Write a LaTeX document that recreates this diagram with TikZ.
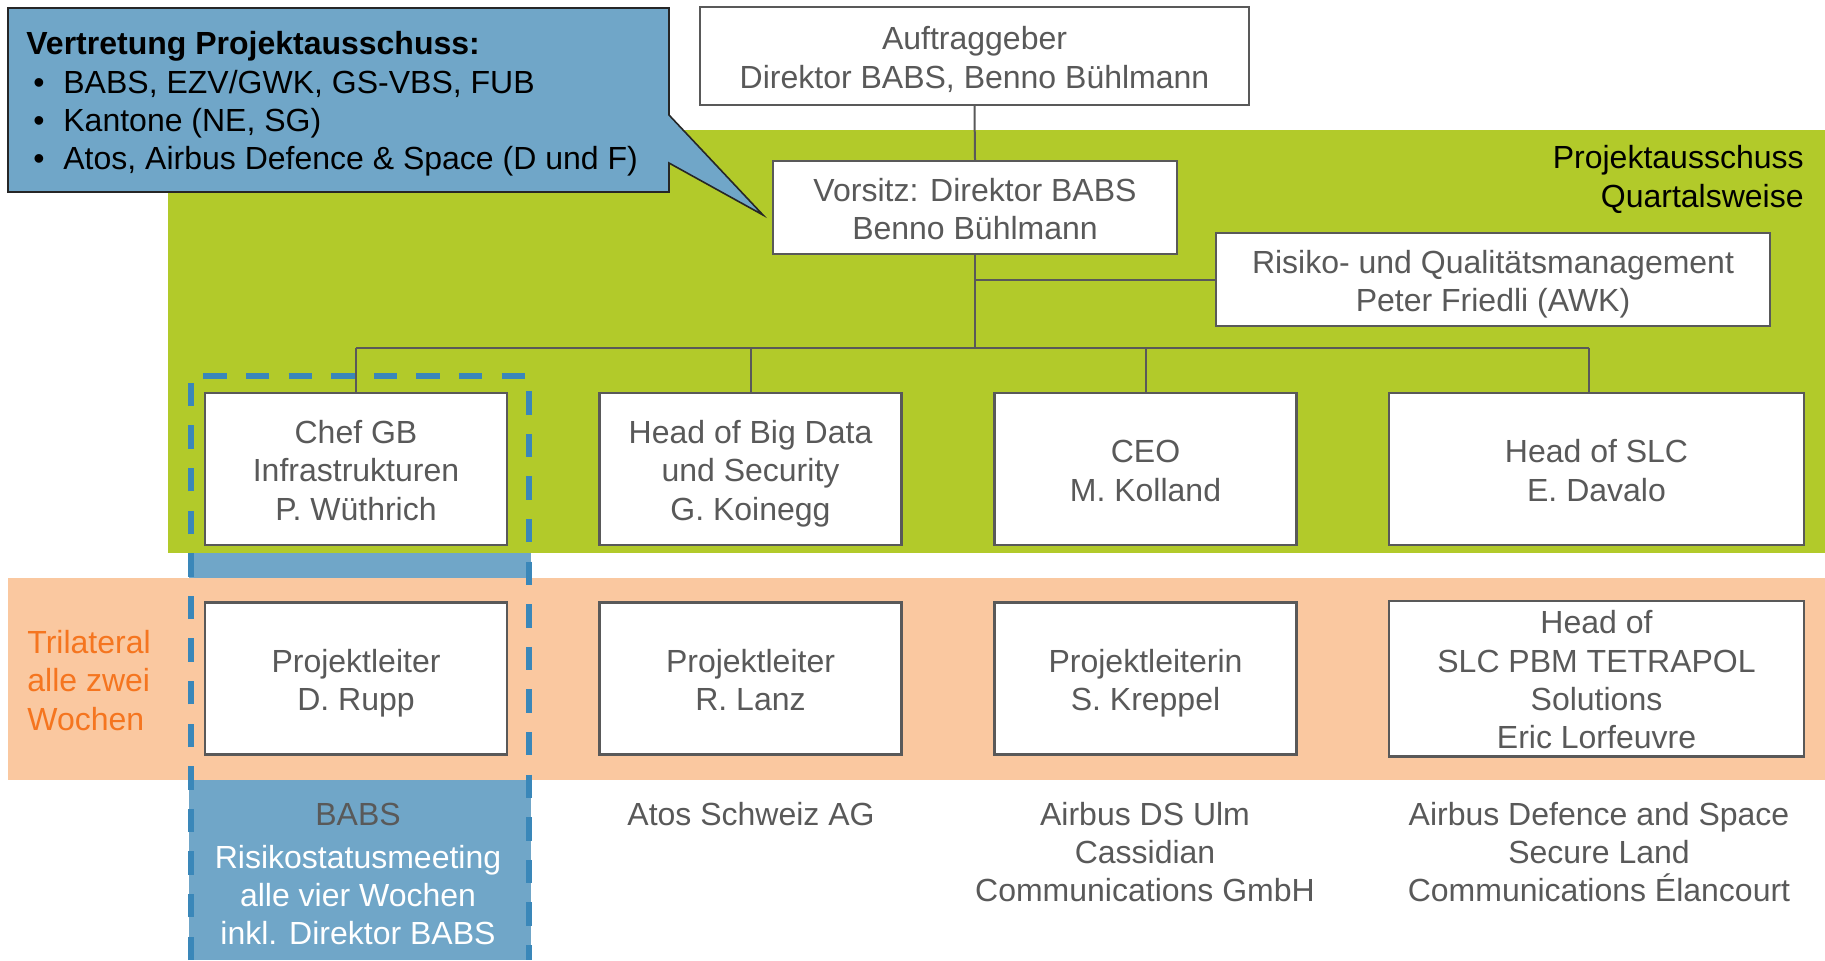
\documentclass[tikz,border=0pt]{standalone}
\usepackage{fontspec}
\setmainfont{Liberation Sans}
\definecolor{txtgray}{HTML}{595959}
\definecolor{bandgreen}{HTML}{B2CA2A}
\definecolor{bandpeach}{HTML}{FAC8A0}
\definecolor{calloutblue}{HTML}{70A6C8}
\definecolor{dashblue}{HTML}{3A87B9}
\definecolor{triorange}{HTML}{F5751F}
\newcommand{\tstr}{\rule{0pt}{16.5pt}}
\newcommand{\dstr}{\rule[-3.7pt]{0pt}{3.7pt}}
\begin{document}
\begin{tikzpicture}[x=0.5pt,y=-0.5pt,
  every node/.style={font=\fontsize{16}{19.2}\selectfont},
  orgbox/.style={draw=txtgray,line width=1.2pt,fill=white,text=txtgray,align=center,inner sep=0pt,minimum height=76pt},
  smallbox/.style={orgbox,minimum width=151pt},
  widebox/.style={orgbox,minimum width=207.5pt},
  conn/.style={draw=txtgray,line width=1pt},
  lbl/.style={text=txtgray,align=center,inner sep=0pt}]
\useasboundingbox (0,0) rectangle (1825,960);
% bands
\fill[calloutblue] (189,553) rectangle (531,960);
\fill[bandgreen] (168,130) rectangle (1825,553);
\fill[bandpeach] (8,578) rectangle (1825,780);
\draw[dashblue,line width=3pt,dash pattern=on 11.7pt off 9.6pt] (191,960) -- (191,376) -- (529,376) -- (529,960);
% top boxes
\node[orgbox,minimum width=274.5pt,minimum height=49pt] (auf) at (974.5,56) {\tstr Auftraggeber\\Direktor BABS, Benno Bühlmann\dstr};
\node[orgbox,minimum width=202pt,minimum height=46.5pt] (vor) at (975,207.5) {\tstr Vorsitz: Direktor BABS\\Benno Bühlmann\dstr};
\node[orgbox,minimum width=277pt,minimum height=46.5pt] (ris) at (1493,279.5) {\tstr Risiko- und Qualitätsmanagement\\Peter Friedli (AWK)\dstr};
% row 1
\node[smallbox] (c1) at (356,469) {\tstr Chef GB\\Infrastrukturen\\P. Wüthrich\dstr};
\node[smallbox] (c2) at (750.5,469) {\tstr Head of Big Data\\und Security\\G. Koinegg\dstr};
\node[smallbox] (c3) at (1145.5,469) {\tstr CEO\\M. Kolland\dstr};
\node[widebox] (c4) at (1596.5,469) {\tstr Head of SLC\\E. Davalo\dstr};
% row 2
\node[smallbox] (p1) at (356,678.5) {\tstr Projektleiter\\D. Rupp\dstr};
\node[smallbox] (p2) at (750.5,678.5) {\tstr Projektleiter\\R. Lanz\dstr};
\node[smallbox] (p3) at (1145.5,678.5) {\tstr Projektleiterin\\S. Kreppel\dstr};
\node[widebox] (p4) at (1596.5,678.5) {\tstr Head of\\SLC PBM TETRAPOL\\Solutions\\Eric Lorfeuvre\dstr};
% connectors
\coordinate (busL) at (356,348);
\coordinate (busR) at (1589,348);
\draw[conn] (auf.south) -- (vor.north);
\draw[conn] (vor.south) -- (vor.south |- busL);
\draw[conn] (vor.south |- ris.west) -- (ris.west);
\draw[conn] (busL) -- (busR);
\draw[conn] (busL) -- (c1.north);
\draw[conn] (c2.north |- busL) -- (c2.north);
\draw[conn] (c3.north |- busL) -- (c3.north);
\draw[conn] (busR) -- (busR |- c4.north);
% labels
\node[anchor=east,align=right,inner sep=0pt] (pa) at (1804,179.5) {Projektausschuss\\Quartalsweise};
\node[anchor=west,align=left,inner sep=0pt,text=triorange] (tri) at (27,680.5) {Trilateral\\alle zwei\\Wochen};
\node[lbl] (babs) at (358,814) {BABS};
\node[lbl,text=white] (risk) at (358,895) {Risikostatusmeeting\\alle vier Wochen\\inkl. Direktor BABS};
\node[lbl] (atos) at (751,814) {Atos Schweiz AG};
\node[lbl] (ulm) at (1145,852) {Airbus DS Ulm\\Cassidian\\Communications GmbH};
\node[lbl] (ads) at (1599,852) {Airbus Defence and Space\\Secure Land\\Communications Élancourt};
% callout
\draw[fill=calloutblue,draw=black!85,line width=0.8pt] (8,8) -- (669,8) -- (669,115) -- (763,215) -- (669,163) -- (669,192) -- (8,192) -- cycle;
\node[anchor=west,align=left,inner sep=0pt] (vt) at (26,104) {\textbf{Vertretung Projektausschuss:}\\
\hspace*{3.5pt}\makebox[15pt][l]{•}BABS, EZV/GWK, GS-VBS, FUB\\
\hspace*{3.5pt}\makebox[15pt][l]{•}Kantone (NE, SG)\\
\hspace*{3.5pt}\makebox[15pt][l]{•}Atos, Airbus Defence \& Space (D und F)};
\end{tikzpicture}
\end{document}
